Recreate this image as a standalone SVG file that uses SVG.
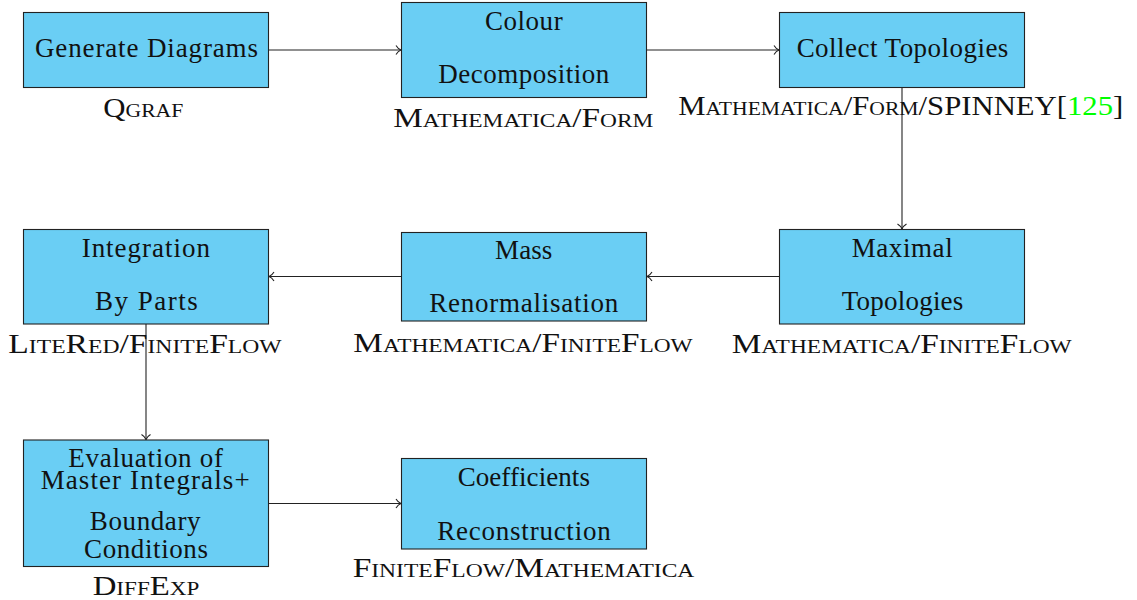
<svg xmlns="http://www.w3.org/2000/svg" width="1137" height="600" viewBox="0 0 1137 600">
<style>
.box{fill:#6ACEF4;stroke:#222;stroke-width:1.1}
.t{font-family:"Liberation Serif","Times New Roman","DejaVu Serif",serif;font-size:27px;fill:#111;text-anchor:middle}
.sc{font-variant:small-caps}
.edge{fill:none;stroke:#222;stroke-width:1.1}
</style>
<defs>
<marker id="to" markerUnits="userSpaceOnUse" markerWidth="14" markerHeight="14" viewBox="-8 -7 10 14" refX="0" refY="0" orient="auto">
<path d="M-5,-4.5 C-3.5,-2 -1.5,-0.5 0,0 C-1.5,0.5 -3.5,2 -5,4.5" fill="none" stroke="#222" stroke-width="1.1"/>
</marker>
</defs>
<rect width="1137" height="600" fill="#fff"/>
<g id="connectors">
<path class="edge" d="M268.5,50 H401" marker-end="url(#to)"/>
<path class="edge" d="M646.5,50 H779" marker-end="url(#to)"/>
<path class="edge" d="M902,87.5 V229" marker-end="url(#to)"/>
<path class="edge" d="M779.5,276.5 H647" marker-end="url(#to)"/>
<path class="edge" d="M401.5,276.5 H269" marker-end="url(#to)"/>
<path class="edge" d="M146,324 V439.5" marker-end="url(#to)"/>
<path class="edge" d="M268.5,503.5 H401" marker-end="url(#to)"/>
</g>
<g id="generate">
<rect class="box" x="23.5" y="12.5" width="245" height="75"/>
<text class="t" x="146.5" y="57" textLength="223" lengthAdjust="spacing">Generate Diagrams</text>
<text class="t sc" x="143.3" y="116.5" textLength="80" lengthAdjust="spacingAndGlyphs">Qgraf</text>
</g>
<g id="colour">
<rect class="box" x="401.5" y="2.5" width="245" height="95"/>
<text class="t" x="523.8" y="30" textLength="77.7" lengthAdjust="spacing">Colour</text>
<text class="t" x="523.8" y="83.3" textLength="171" lengthAdjust="spacing">Decomposition</text>
<text class="t sc" x="523.3" y="126.5" textLength="260" lengthAdjust="spacingAndGlyphs">Mathematica/Form</text>
</g>
<g id="collect">
<rect class="box" x="779.5" y="12.5" width="245" height="75"/>
<text class="t" x="902.5" y="57" textLength="211.7" lengthAdjust="spacing">Collect Topologies</text>
<text class="t sc" x="900.8" y="115" textLength="445" lengthAdjust="spacingAndGlyphs">Mathematica/Form/SPINNEY[<tspan fill="#00FF00">125</tspan>]</text>
</g>
<g id="maximal">
<rect class="box" x="779.5" y="229.5" width="245" height="94.5"/>
<text class="t" x="902.2" y="256.7" textLength="101" lengthAdjust="spacing">Maximal</text>
<text class="t" x="902.5" y="310" textLength="121.7" lengthAdjust="spacing">Topologies</text>
<text class="t sc" x="901.7" y="353.3" textLength="340" lengthAdjust="spacingAndGlyphs">Mathematica/FiniteFlow</text>
</g>
<g id="mass">
<rect class="box" x="401.5" y="232.5" width="245" height="88.5"/>
<text class="t" x="523.7" y="259.3" textLength="57.3" lengthAdjust="spacing">Mass</text>
<text class="t" x="523.8" y="311.7" textLength="189" lengthAdjust="spacing">Renormalisation</text>
<text class="t sc" x="523" y="351.7" textLength="339.3" lengthAdjust="spacingAndGlyphs">Mathematica/FiniteFlow</text>
</g>
<g id="ibp">
<rect class="box" x="23.5" y="229.5" width="245" height="94.5"/>
<text class="t" x="145.8" y="256.7" textLength="128.3" lengthAdjust="spacing">Integration</text>
<text class="t" x="146.3" y="310" textLength="102.7" lengthAdjust="spacing">By Parts</text>
<text class="t sc" x="145" y="353.3" textLength="273.3" lengthAdjust="spacingAndGlyphs">LiteRed/FiniteFlow</text>
</g>
<g id="evaluation">
<rect class="box" x="23.5" y="440" width="245" height="126.5"/>
<text class="t"><tspan x="146" y="467.3" letter-spacing="0.7">Evaluation of</tspan><tspan x="145.7" y="489" letter-spacing="1.1">Master Integrals+</tspan></text>
<text class="t"><tspan x="145.5" y="530" letter-spacing="0.6">Boundary</tspan><tspan x="146.3" y="557.7" letter-spacing="0.6">Conditions</tspan></text>
<text class="t sc" x="146" y="595" textLength="106.7" lengthAdjust="spacingAndGlyphs">DiffExp</text>
</g>
<g id="coefficients">
<rect class="box" x="401.5" y="458.5" width="245" height="90.5"/>
<text class="t" x="523.8" y="485.7" textLength="132.3" lengthAdjust="spacing">Coefficients</text>
<text class="t" x="524" y="540" textLength="173.3" lengthAdjust="spacing">Reconstruction</text>
<text class="t sc" x="523.5" y="577.3" textLength="341.7" lengthAdjust="spacingAndGlyphs">FiniteFlow/Mathematica</text>
</g>
</svg>
